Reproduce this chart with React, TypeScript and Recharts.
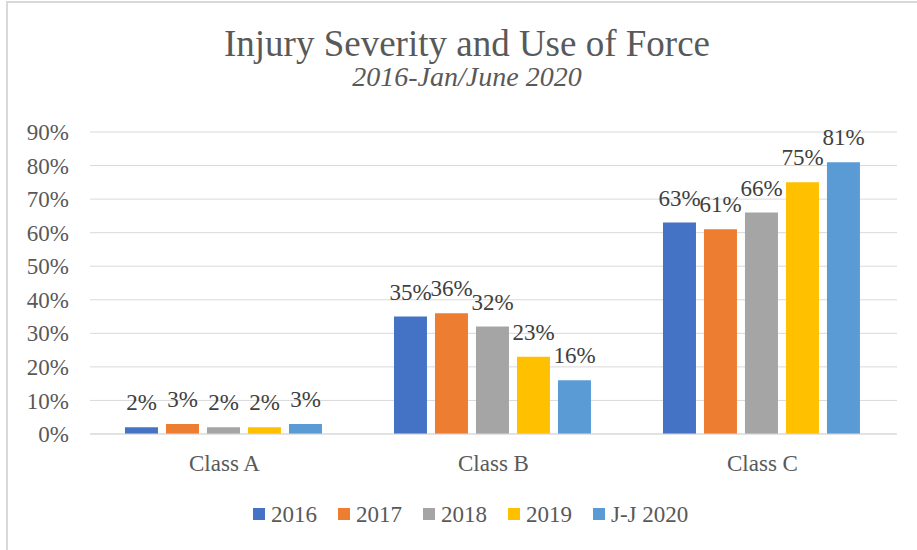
import React from 'react';
import { BarChart, Bar, XAxis, YAxis, CartesianGrid, LabelList } from 'recharts';

const categories = ['Class A', 'Class B', 'Class C'];
const seriesNames = ['2016', '2017', '2018', '2019', 'J-J 2020'];
const values2016 = [2, 35, 63];
const values2017 = [3, 36, 61];
const values2018 = [2, 32, 66];
const values2019 = [2, 23, 75];
const valuesJJ2020 = [3, 16, 81];
const yTicks = [0, 10, 20, 30, 40, 50, 60, 70, 80, 90];

const colors = ['#4472C4', '#ED7D31', '#A5A5A5', '#FFC000', '#5B9BD5'];
const seriesValues = [values2016, values2017, values2018, values2019, valuesJJ2020];

const data = categories.map((name, i) => {
  const row: Record<string, string | number> = { name };
  seriesNames.forEach((s, j) => {
    row[s] = seriesValues[j][i];
  });
  return row;
});

const FONT = 'Liberation Serif';
const TEXT = '#595959';

const App: React.FC = () => {
  return (
    <div style={{ position: 'absolute', left: 0, top: 0, width: 917, height: 550, background: '#fff', overflow: 'hidden', fontFamily: FONT }}>
      <style>{`.recharts-wrapper text, .recharts-text { font-family: "Liberation Serif", serif !important; }`}</style>
      <div
        style={{
          position: 'absolute',
          left: 6,
          top: 1,
          width: 940,
          height: 580,
          borderLeft: '2px solid #d9d9d9',
          borderTop: '2px solid #d9d9d9',
        }}
      />
      <BarChart
        width={917}
        height={550}
        data={data}
        margin={{ top: 132, right: 20, left: 0, bottom: 76 }}
        barCategoryGap="13%"
        barGap={8}
      >
        <CartesianGrid vertical={false} stroke="#d9d9d9" />
        <XAxis
          dataKey="name"
          height={40}
          axisLine={{ stroke: '#d9d9d9' }}
          tickLine={false}
          tickSize={0}
          tickMargin={21}
          tick={{ fill: TEXT, fontSize: 23 }}
        />
        <YAxis
          width={90}
          domain={[0, 90]}
          ticks={yTicks}
          interval={0}
          axisLine={false}
          tickLine={false}
          tickSize={0}
          tickMargin={21}
          tickFormatter={(v: number) => `${v}%`}
          tick={{ fill: TEXT, fontSize: 23 }}
        />
        {seriesNames.map((s, i) => (
          <Bar key={s} dataKey={s} fill={colors[i]} isAnimationActive={false}>
            <LabelList
              dataKey={s}
              position="top"
              offset={17}
              formatter={(v: any) => `${v}%`}
              fill="#404040"
              fontSize={23}
            />
          </Bar>
        ))}
      </BarChart>
      <svg width={917} height={550} style={{ position: 'absolute', left: 0, top: 0, pointerEvents: 'none' }}>
        <text x={467} y={56} textAnchor="middle" fill={TEXT} fontSize={37} fontFamily={FONT}>
          Injury Severity and Use of Force
        </text>
        <text x={467} y={86} textAnchor="middle" fill={TEXT} fontSize={28} fontStyle="italic" fontFamily={FONT}>
          2016-Jan/June 2020
        </text>
        {seriesNames.map((s, i) => (
          <g key={s}>
            <rect x={253 + i * 85} y={508} width={12} height={12} fill={colors[i]} />
            <text x={271 + i * 85} y={522} fill={TEXT} fontSize={23} fontFamily={FONT}>
              {s}
            </text>
          </g>
        ))}
      </svg>
    </div>
  );
};

export default App;
